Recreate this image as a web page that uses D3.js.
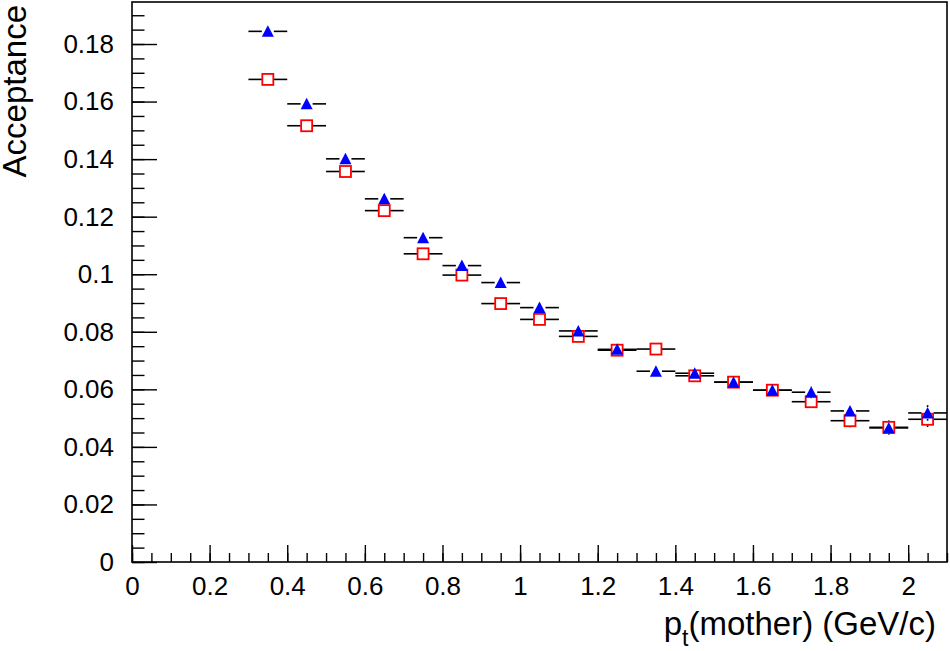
<!DOCTYPE html>
<html>
<head>
<meta charset="utf-8">
<script src="https://cdn.jsdelivr.net/npm/d3@7/dist/d3.min.js"></script>
<style>
  html, body { margin: 0; padding: 0; background: #fff; }
  svg { display: block; font-family: "Liberation Sans", Arial, Helvetica, sans-serif; }
</style>
</head>
<body>
<svg id="chart"></svg>
<script>
// ==============================
// DATA
// ==============================
const ptCenters = [0.35, 0.45, 0.55, 0.65, 0.75, 0.85, 0.95, 1.05, 1.15,
                   1.25, 1.35, 1.45, 1.55, 1.65, 1.75, 1.85, 1.95, 2.05];
const binHalfWidth = 0.05;

// blue filled triangles
const accTriangle = [0.1844, 0.1592, 0.1401, 0.1262, 0.1127, 0.1030, 0.0971, 0.0884, 0.0803,
                     0.0739, 0.0663, 0.0656, 0.0625, 0.0597, 0.0590, 0.0525, 0.0466, 0.0518];
const errTriangle = [0.0006, 0.0006, 0.0006, 0.0007, 0.0007, 0.0008, 0.0008, 0.0009, 0.0010,
                     0.0011, 0.0012, 0.0013, 0.0014, 0.0016, 0.0022, 0.0021, 0.0023, 0.0027];

// red open squares
const accSquare = [0.1677, 0.1516, 0.1357, 0.1221, 0.1071, 0.0997, 0.0898, 0.0843, 0.0784,
                   0.0736, 0.0740, 0.0647, 0.0625, 0.0597, 0.0557, 0.0491, 0.0468, 0.0496];
const errSquare = [0.0006, 0.0006, 0.0006, 0.0007, 0.0007, 0.0008, 0.0008, 0.0009, 0.0010,
                   0.0011, 0.0012, 0.0013, 0.0014, 0.0016, 0.0022, 0.0023, 0.0024, 0.0027];

const xTickValues = [0, 0.2, 0.4, 0.6, 0.8, 1, 1.2, 1.4, 1.6, 1.8, 2];
const xTickLabels = ["0", "0.2", "0.4", "0.6", "0.8", "1", "1.2", "1.4", "1.6", "1.8", "2"];
const yTickValues = [0, 0.02, 0.04, 0.06, 0.08, 0.1, 0.12, 0.14, 0.16, 0.18];
const yTickLabels = ["0", "0.02", "0.04", "0.06", "0.08", "0.1", "0.12", "0.14", "0.16", "0.18"];

// ==============================
// SVG + DIMENSIONS
// ==============================
const width = 950;
const height = 651;
const margin = { top: 2, right: 3, bottom: 89, left: 132 };

const svg = d3.select("#chart")
  .attr("width", width)
  .attr("height", height);

const x = d3.scaleLinear().domain([0, 2.1]).range([margin.left, width - margin.right]);
const y = d3.scaleLinear().domain([0, 0.1946]).range([height - margin.bottom, margin.top]);

const plotH = height - margin.bottom - margin.top;
const plotW = width - margin.right - margin.left;

// ==============================
// AXES
// ==============================
const xAxis = d3.axisBottom(x)
  .tickValues(xTickValues)
  .tickFormat((d, i) => xTickLabels[i])
  .tickSizeInner(-17)
  .tickSizeOuter(0)
  .tickPadding(15);

const xMinor = d3.axisBottom(x)
  .tickValues(d3.range(0, 2.1001, 0.05))
  .tickFormat("")
  .tickSizeInner(-9)
  .tickSizeOuter(0);

const yAxis = d3.axisLeft(y)
  .tickValues(yTickValues)
  .tickFormat((d, i) => yTickLabels[i])
  .tickSizeInner(-25)
  .tickSizeOuter(0)
  .tickPadding(18);

const yMinor = d3.axisLeft(y)
  .tickValues(d3.range(0, 0.1946, 0.005))
  .tickFormat("")
  .tickSizeInner(-12.5)
  .tickSizeOuter(0);

function styleAxis(g) {
  g.select(".domain").remove();
  g.selectAll("line").attr("stroke", "#000").attr("stroke-width", 1.4);
  g.selectAll("text").attr("font-size", 26).attr("fill", "#000");
}

svg.append("g")
  .attr("transform", `translate(0,${height - margin.bottom})`)
  .call(xMinor).call(styleAxis);
svg.append("g")
  .attr("transform", `translate(0,${height - margin.bottom})`)
  .call(xAxis).call(styleAxis)
  .selectAll("text").attr("dy", "0.71em");

svg.append("g")
  .attr("transform", `translate(${margin.left},0)`)
  .call(yMinor).call(styleAxis);
svg.append("g")
  .attr("transform", `translate(${margin.left},0)`)
  .call(yAxis).call(styleAxis);

// frame
svg.append("rect")
  .attr("x", margin.left)
  .attr("y", margin.top)
  .attr("width", plotW)
  .attr("height", plotH)
  .attr("fill", "none")
  .attr("stroke", "#000")
  .attr("stroke-width", 1.6);

// axis titles
const xTitle = svg.append("text")
  .attr("x", 936)
  .attr("y", 635)
  .attr("text-anchor", "end")
  .attr("font-size", 33)
  .attr("fill", "#000");
xTitle.append("tspan").text("p");
xTitle.append("tspan").attr("font-size", 23).attr("dy", 11).text("t");
xTitle.append("tspan").attr("dy", -11).text("(mother) (GeV/c)");

svg.append("text")
  .attr("transform", "translate(26,5) rotate(-90)")
  .attr("text-anchor", "end")
  .attr("font-size", 33)
  .attr("fill", "#000")
  .text("Acceptance");

// ==============================
// POINTS + ERROR BARS
// ==============================
const gap = 6;

function drawSeries(values, errors, cls) {
  const data = ptCenters.map((c, i) => ({ c: c, v: values[i], e: errors[i] }));
  const g = svg.append("g").attr("class", cls + "-errors")
    .attr("stroke", "#000").attr("stroke-width", 1.6);

  data.forEach(d => {
    const cx = x(d.c), cy = y(d.v);
    const xl = x(d.c - binHalfWidth), xr = x(d.c + binHalfWidth);
    g.append("line").attr("x1", xl).attr("x2", cx - gap).attr("y1", cy).attr("y2", cy);
    g.append("line").attr("x1", cx + gap).attr("x2", xr).attr("y1", cy).attr("y2", cy);
    const yt = y(d.v + d.e), yb = y(d.v - d.e);
    if (cy - yt > gap) {
      g.append("line").attr("x1", cx).attr("x2", cx).attr("y1", yt).attr("y2", cy - gap);
      g.append("line").attr("x1", cx).attr("x2", cx).attr("y1", cy + gap).attr("y2", yb);
    }
  });
  return data;
}

const sqData = drawSeries(accSquare, errSquare, "square");
const triData = drawSeries(accTriangle, errTriangle, "triangle");

svg.append("g").selectAll("rect.sq")
  .data(sqData)
  .enter()
  .append("rect")
  .attr("class", "sq")
  .attr("x", d => x(d.c) - 5.5)
  .attr("y", d => y(d.v) - 5.5)
  .attr("width", 11)
  .attr("height", 11)
  .attr("fill", "none")
  .attr("stroke", "#ff0000")
  .attr("stroke-width", 1.8);

svg.append("g").selectAll("path.tri")
  .data(triData)
  .enter()
  .append("path")
  .attr("class", "tri")
  .attr("d", d => {
    const cx = x(d.c), cy = y(d.v);
    return `M${cx},${cy - 6}L${cx + 6},${cy + 5.5}L${cx - 6},${cy + 5.5}Z`;
  })
  .attr("fill", "#0000ff");
</script>
</body>
</html>
